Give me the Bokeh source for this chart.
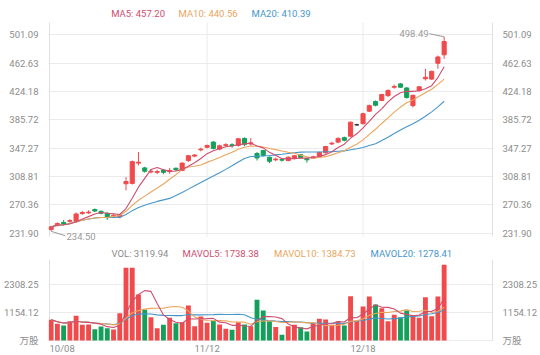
import numpy as np
import pandas as pd
from bokeh.plotting import figure
from bokeh.layouts import column
from bokeh.models import (FixedTicker, CustomJSTickFormatter, LinearAxis, Label,
                          ColumnDataSource, Range1d)
from bokeh.embed import file_html
from bokeh.resources import INLINE

# ---------------- data ----------------
opens = [237.0, 242.5, 246.5, 248.0, 247.5, 258.5, 259.5, 264.0, 261.5, 259.0,
         255.0, 254.0, 299.0, 299.5, 327.0, 320.5, 315.0, 314.5, 317.5, 315.5,
         320.0, 317.0, 330.5, 336.5, 345.0, 348.5, 355.5, 346.0, 351.0, 352.0,
         351.0, 360.5, 353.0, 340.0, 344.0, 335.0, 331.5, 332.0, 330.5, 333.5,
         338.5, 333.0, 334.0, 336.0, 341.0, 353.0, 355.5, 361.5, 363.5, 379.0,
         380.5, 397.5, 410.5, 412.0, 418.5, 430.0, 434.5, 429.0, 405.0, 425.5,
         441.5, 441.0, 462.5, 474.0]
highs = [242.0, 246.5, 250.0, 251.0, 260.0, 262.0, 263.0, 265.5, 263.0, 260.0,
         258.0, 258.0, 308.0, 330.5, 342.0, 322.0, 319.0, 318.0, 319.0, 320.5,
         321.0, 328.0, 338.0, 339.0, 348.0, 352.0, 357.0, 352.0, 354.0, 354.0,
         361.0, 362.0, 361.0, 342.0, 345.0, 336.0, 334.5, 333.5, 336.0, 338.0,
         339.0, 334.5, 337.0, 342.5, 350.5, 356.0, 362.0, 363.0, 383.5, 380.5,
         395.5, 406.5, 412.0, 421.0, 427.0, 433.5, 435.5, 430.0, 420.0, 431.5,
         455.0, 452.5, 473.0, 498.49]
lows = [234.5, 241.0, 242.0, 246.0, 246.0, 257.0, 258.0, 260.5, 257.5, 250.0,
        253.0, 252.0, 290.0, 298.0, 324.0, 314.0, 313.0, 312.0, 312.0, 312.5,
        316.0, 316.0, 328.5, 335.0, 343.0, 347.0, 345.5, 344.5, 349.5, 348.0,
        349.5, 350.0, 351.0, 330.5, 336.0, 327.0, 329.5, 329.0, 329.5, 332.0,
        333.0, 327.5, 333.0, 335.0, 340.0, 351.5, 354.0, 356.5, 362.5, 377.5,
        379.5, 396.5, 404.0, 411.0, 417.0, 428.0, 429.0, 414.5, 402.5, 424.0,
        439.0, 440.0, 455.0, 468.5]
closes = [240.5, 245.0, 244.5, 249.0, 258.0, 260.0, 260.5, 262.0, 259.0, 253.0,
          256.0, 256.5, 302.0, 329.0, 328.3, 316.0, 316.0, 315.5, 314.5, 317.0,
          318.0, 327.0, 337.0, 338.0, 346.0, 351.0, 347.0, 350.5, 352.0, 350.5,
          360.0, 352.5, 354.5, 334.0, 337.5, 329.5, 332.5, 331.0, 335.0, 337.0,
          334.5, 331.5, 335.5, 341.5, 349.5, 354.0, 360.5, 358.0, 382.5, 379.0,
          394.0, 405.0, 405.5, 420.0, 425.5, 431.0, 430.0, 416.0, 419.0, 430.5,
          443.5, 451.5, 471.0, 492.0]
volumes = [853, 688, 618, 796, 1018, 647, 660, 466, 577, 507,
           453, 1125, 2997, 2997, 1896, 1265, 962, 507, 647, 935,
           714, 756, 1443, 591, 989, 728, 811, 660, 481, 440,
           756, 660, 591, 1676, 1237, 797, 556, 240, 591, 646,
           550, 371, 720, 894, 866, 646, 783, 618, 1826, 824,
           1401, 1814, 1484, 1333, 797, 1058, 962, 1237, 1044, 934,
           1786, 1003, 1814, 3119.94]

price_tick_labels = ["231.90", "270.36", "308.81", "347.27", "385.72", "424.18", "462.63", "501.09"]
vol_tick_values = [0, 1154.12, 2308.25]
vol_tick_labels = ["万股", "1154.12", "2308.25"]
date_tick_idx = [0, 25, 50]
date_tick_labels = ["10/08", "11/12", "12/18"]
ma_legend = ["MA5: 457.20", "MA10: 440.56", "MA20: 410.39"]
vol_legend = ["VOL: 3119.94", "MAVOL5: 1738.38", "MAVOL10: 1384.73", "MAVOL20: 1278.41"]

# ---------------- styling / geometry ----------------
RED, GREEN, DOJI = "#f04a4c", "#14a05a", "#333333"
C_MA5, C_MA10, C_MA20 = "#cf4d6f", "#eba55c", "#4596cb"
GRID, BORDER, TXT, MARK = "#ebebeb", "#e0e0e0", "#8c8c8c", "#9a9a9a"
FONT = "Roboto, 'Noto Sans CJK SC', sans-serif"
FS = "9.5px"

W = 540
FL, FR = 44, 497                  # frame edges (px)
PL, PR = 45, 496                  # panel border lines (px)
PX0, DX = 46.7, 6.35              # px of first candle, px per candle
X0, X1 = (FL - PX0) / DX, (FR - PX0) / DX
XB0, XB1 = (PL - PX0) / DX, (PR - PX0) / DX

H1 = 245
KY = 28.34 / 38.4557              # px per price unit
PY_REF, P_REF = 232.7, 231.90     # px row of the 231.90 gridline
Y0 = P_REF - (H1 - PY_REF) / KY
Y1 = P_REF + PY_REF / KY
PT0 = P_REF - (236 - PY_REF) / KY  # panel bottom
PT1 = P_REF + (PY_REF - 22) / KY   # panel top

H2 = 110                          # second figure starts at page row 245
KV = 28.0 / 1154.12               # px per volume unit
V_BASE = 340 - H1                 # px row of volume 0 inside fig 2
V0 = -(H2 - V_BASE) / KV
V1 = V_BASE / KV
VT1 = (V_BASE - (259.5 - H1)) / KV  # volume panel top

n = len(closes)
idx = np.arange(n)
o, h, l, c, v = (np.array(a, dtype=float) for a in (opens, highs, lows, closes, volumes))
cand_col = [RED if cc > oo else (GREEN if cc < oo else DOJI) for oo, cc in zip(o, c)]
vol_col = [GREEN if cc < oo else RED for oo, cc in zip(o, c)]

cs, vs = pd.Series(c), pd.Series(v)
ma = {k: cs.rolling(k, min_periods=1).mean().values for k in (5, 10, 20)}
mav = {k: vs.rolling(k, min_periods=1).mean().values for k in (5, 10, 20)}

src = ColumnDataSource(dict(x=idx, o=o, h=h, l=l, c=c, v=v,
                            top=np.maximum(o, c), bot=np.minimum(o, c),
                            cc=cand_col, vc=vol_col))
xr = Range1d(X0, X1)
vlines = [XB0] + date_tick_idx[1:] + [XB1]
vline_cols = [BORDER] + [GRID] * (len(date_tick_idx) - 1) + [BORDER]


def style_axis(ax, standoff):
    ax.major_tick_line_color = None
    ax.minor_tick_line_color = None
    ax.axis_line_color = None
    ax.major_label_text_color = TXT
    ax.major_label_text_font = FONT
    ax.major_label_text_font_size = FS
    ax.major_label_standoff = standoff


def text(fig, txt, x, y, col, align="left", xu="screen", xo=0.0, yo=0.0, yu="screen"):
    fig.add_layout(Label(x=x, y=y, x_units=xu, y_units=yu, x_offset=xo, y_offset=yo,
                         text=txt, text_color=col, text_font=FONT, text_font_size=FS,
                         text_align=align, text_baseline="middle"))


# ---------------- price panel ----------------
p = figure(width=W, height=H1, x_range=xr, y_range=Range1d(Y0, Y1),
           output_backend="svg", toolbar_location=None,
           min_border_left=FL, min_border_right=W - FR, min_border_top=0, min_border_bottom=0,
           x_axis_location=None, outline_line_color=None,
           background_fill_color="white", border_fill_color="white")
pticks = FixedTicker(ticks=[float(s) for s in price_tick_labels])
pfmt = CustomJSTickFormatter(code="return tick.toFixed(2);")
p.yaxis.ticker = pticks
p.yaxis.formatter = pfmt
style_axis(p.yaxis[0], 4)
ra = LinearAxis(ticker=pticks, formatter=pfmt)
style_axis(ra, 3)
p.add_layout(ra, "right")
p.ygrid.ticker = pticks
p.ygrid.grid_line_color = GRID
p.xgrid.visible = False
p.segment(x0=vlines, x1=vlines, y0=PT0, y1=PT1, color=vline_cols, line_width=1)

p.segment(x0="x", y0="l", x1="x", y1="h", color="cc", line_width=1, source=src)
p.vbar(x="x", top="top", bottom="bot", width=0.66, fill_color="cc", line_color="cc",
       line_width=1, source=src)
for k, col in ((20, C_MA20), (10, C_MA10), (5, C_MA5)):
    p.line(idx, ma[k], color=col, line_width=1.1)

# min / max markers
imin, imax = int(np.argmin(l)), int(np.argmax(h))
p.segment(x0=[imin, imax], y0=[l[imin], h[imax]],
          x1=[imin + 14.5 / DX, imax - 15.0 / DX],
          y1=[l[imin] - 4.5 / KY, h[imax] + 3.0 / KY],
          color=MARK, line_width=1)
text(p, f"{l[imin]:.2f}", imin, l[imin], MARK, xu="data", yu="data", xo=15.3, yo=-5.2)
text(p, f"{h[imax]:.2f}", imax, h[imax], MARK, align="right", xu="data", yu="data",
     xo=-15.5, yo=3.0)

for txt, col, px in zip(ma_legend, (C_MA5, C_MA10, C_MA20), (106.7, 174.0, 247.0)):
    text(p, txt, px - FL, H1 - 13, col)

# ---------------- volume panel ----------------
q = figure(width=W, height=H2, x_range=xr, y_range=Range1d(V0, V1),
           output_backend="svg", toolbar_location=None,
           min_border_left=FL, min_border_right=W - FR, min_border_top=0, min_border_bottom=0,
           x_axis_location=None, outline_line_color=None,
           background_fill_color="white", border_fill_color="white")
vticks = FixedTicker(ticks=vol_tick_values)
vfmt = CustomJSTickFormatter(args=dict(vals=vol_tick_values, labs=vol_tick_labels), code="""
for (let i = 0; i < vals.length; i++) { if (Math.abs(tick - vals[i]) < 1e-6) return labs[i]; }
return "";
""")
q.yaxis.ticker = vticks
q.yaxis.formatter = vfmt
style_axis(q.yaxis[0], 4)
rv = LinearAxis(ticker=vticks, formatter=vfmt)
style_axis(rv, 3)
q.add_layout(rv, "right")
q.ygrid.ticker = vticks
q.ygrid.grid_line_color = GRID
q.xgrid.visible = False
q.segment(x0=vlines, x1=vlines, y0=0, y1=VT1, color=vline_cols, line_width=1)

q.vbar(x="x", top="v", bottom=0, width=0.78, fill_color="vc", line_color=None, source=src)
for k, col in ((20, C_MA20), (10, C_MA10), (5, C_MA5)):
    q.line(idx, mav[k], color=col, line_width=1.1)

for txt, col, px in zip(vol_legend, (TXT, C_MA5, C_MA10, C_MA20), (107.0, 178.0, 269.5, 366.0)):
    text(q, txt, px - FL, H2 - (252.7 - H1), col)

# date labels under the volume panel
for i, (ti, tl) in enumerate(zip(date_tick_idx, date_tick_labels)):
    ty = H2 - (348 - H1)
    if i == 0:
        text(q, tl, ti, ty, TXT, align="left", xu="data", xo=PL - PX0)
    else:
        text(q, tl, ti, ty, TXT, align="center", xu="data")

layout = column(p, q, spacing=0)
open("out.html", "w").write(file_html(layout, INLINE))
